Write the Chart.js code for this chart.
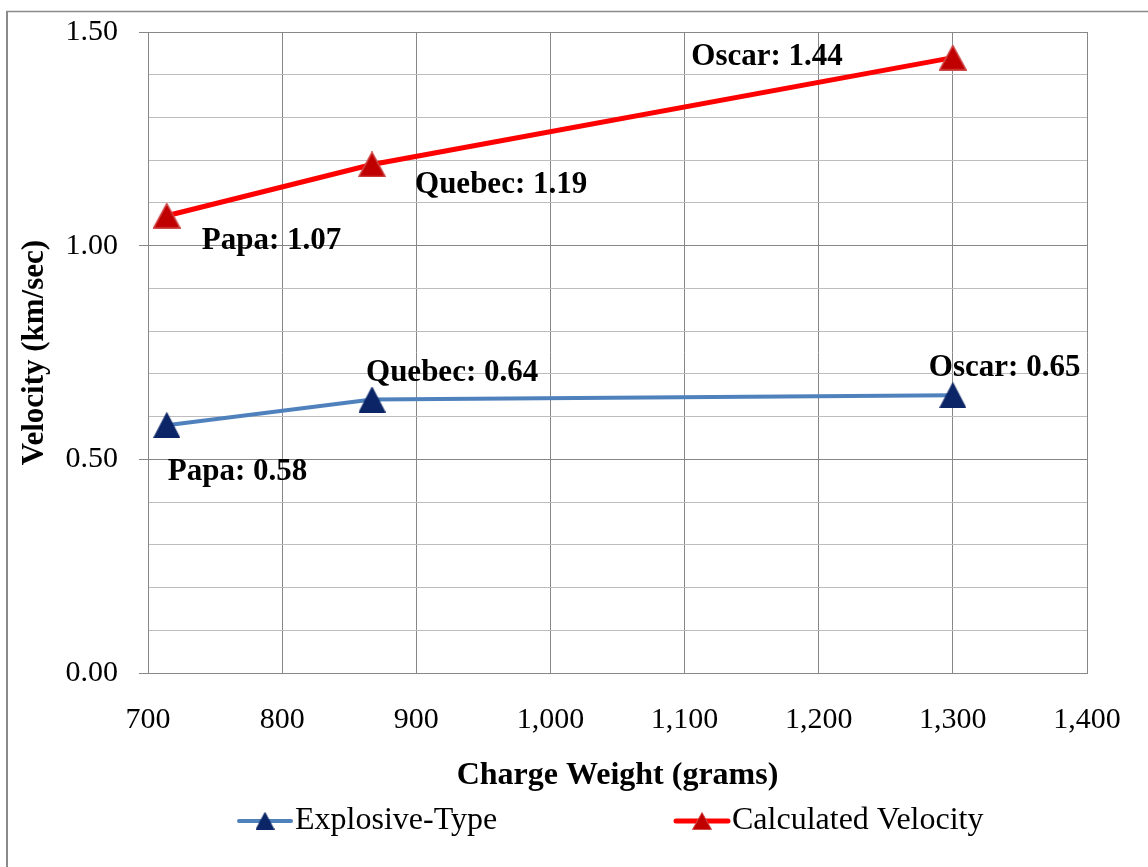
<!DOCTYPE html>
<html><head><meta charset="utf-8">
<script src="https://cdn.jsdelivr.net/npm/chart.js@4.4.0/dist/chart.umd.min.js"></script>
<style>html,body{margin:0;padding:0;background:#fff}#wrap{width:1148px;height:867px}</style>
</head><body><div id="wrap"><canvas id="c" width="1148" height="867"></canvas></div>
<script>
// ---- data ----
const pointNames = ['Papa', 'Quebec', 'Oscar'];
const chargeWeights = [714, 867, 1300];
const explosiveType = [0.58, 0.64, 0.65];
const calculatedVelocity = [1.07, 1.19, 1.44];
const seriesNames = ['Explosive-Type', 'Calculated Velocity'];
const xTitle = 'Charge Weight (grams)';
const yTitle = 'Velocity (km/sec)';

// ---- styling ----
const FONT = "'Liberation Serif','Times New Roman',serif";
const MAJOR = '#878787', MINOR = '#bdbdbd';
const BLUE_LINE = '#4f81bd', BLUE_MARK = '#0b2566', BLUE_EDGE = '#0b2566';
const RED_LINE = '#ff0000', RED_MARK = '#c00000', RED_EDGE = '#d04a4a';

function tri(w, h, fill, stroke, lw) {
  const c = document.createElement('canvas'); c.width = w; c.height = h;
  const g = c.getContext('2d');
  g.beginPath(); g.moveTo(w / 2, lw / 2); g.lineTo(w - lw / 2, h - lw / 2); g.lineTo(lw / 2, h - lw / 2); g.closePath();
  g.fillStyle = fill; g.fill(); g.strokeStyle = stroke; g.lineWidth = lw; g.stroke();
  return c;
}
const blueTri = tri(27, 26, BLUE_MARK, BLUE_EDGE, 1);
const redTri = tri(28, 26, RED_MARK, RED_EDGE, 1.5);
const blueTriSmall = tri(19, 18, BLUE_MARK, BLUE_EDGE, 1);
const redTriSmall = tri(20, 18, RED_MARK, RED_EDGE, 1);

const isMajor = v => Math.abs(v * 2 - Math.round(v * 2)) < 1e-6;

// label offsets relative to each point (layout only)
const labelPlacement = [
  [{dx: 1, dy: 47, align: 'left'}, {dx: -6, dy: -27, align: 'left'}, {dx: -24, dy: -27, align: 'left'}],
  [{dx: 35, dy: 25, align: 'left'}, {dx: 43, dy: 21, align: 'left'}, {dx: -110, dy: -1, align: 'right'}]
];

const framePlugin = {
  id: 'frame',
  beforeDraw(chart) {
    const ctx = chart.ctx;
    ctx.save();
    ctx.fillStyle = '#fff'; ctx.fillRect(0, 0, chart.width, chart.height);
    ctx.strokeStyle = '#8a8a8a';
    ctx.lineWidth = 2;
    ctx.beginPath(); ctx.moveTo(7, 11); ctx.lineTo(7, chart.height); ctx.stroke();
    ctx.lineWidth = 1.5;
    ctx.beginPath(); ctx.moveTo(6, 11.5); ctx.lineTo(chart.width, 11.5); ctx.stroke();
    ctx.restore();
  }
};

const labelPlugin = {
  id: 'pointLabels',
  afterDatasetsDraw(chart) {
    const ctx = chart.ctx;
    ctx.save();
    ctx.font = 'bold 31px ' + FONT;
    ctx.fillStyle = '#000';
    ctx.textBaseline = 'middle';
    chart.data.datasets.forEach((ds, i) => {
      const meta = chart.getDatasetMeta(i);
      meta.data.forEach((pt, j) => {
        const p = labelPlacement[i][j];
        ctx.textAlign = p.align;
        ctx.fillText(pointNames[j] + ': ' + ds.data[j].y.toFixed(2), pt.x + p.dx, pt.y + p.dy);
      });
    });
    ctx.restore();
  }
};

const legendPlugin = {
  id: 'customLegend',
  afterDraw(chart) {
    const ctx = chart.ctx;
    const items = [
      {x: 237, line: BLUE_LINE, lw: 4, img: blueTriSmall, text: seriesNames[0]},
      {x: 674, line: RED_LINE, lw: 5, img: redTriSmall, text: seriesNames[1]}
    ];
    const y = 821;
    ctx.save();
    items.forEach(it => {
      ctx.strokeStyle = it.line; ctx.lineWidth = it.lw; ctx.lineCap = 'round';
      ctx.beginPath(); ctx.moveTo(it.x + 2, y); ctx.lineTo(it.x + 54, y); ctx.stroke();
      ctx.drawImage(it.img, it.x + 28 - it.img.width / 2, y - it.img.height / 2);
      ctx.font = '32px ' + FONT; ctx.fillStyle = '#000'; ctx.textBaseline = 'middle'; ctx.textAlign = 'left';
      ctx.fillText(it.text, it.x + 58, y);
    });
    ctx.restore();
  }
};

const toXY = (xs, ys) => xs.map((x, i) => ({x, y: ys[i]}));

new Chart(document.getElementById('c'), {
  type: 'line',
  data: {
    datasets: [
      {
        label: seriesNames[0], data: toXY(chargeWeights, explosiveType),
        borderColor: BLUE_LINE, borderWidth: 4, tension: 0,
        pointStyle: blueTri, pointRadius: 14, pointHoverRadius: 14,
        backgroundColor: BLUE_MARK
      },
      {
        label: seriesNames[1], data: toXY(chargeWeights, calculatedVelocity),
        borderColor: RED_LINE, borderWidth: 5, tension: 0,
        pointStyle: redTri, pointRadius: 14, pointHoverRadius: 14,
        backgroundColor: RED_MARK
      }
    ]
  },
  options: {
    responsive: false,
    animation: false,
    events: [],
    layout: {padding: {top: 32, right: 61, bottom: 0, left: 0}},
    plugins: {legend: {display: false}, tooltip: {enabled: false}},
    scales: {
      x: {
        type: 'linear', min: 700, max: 1400,
        ticks: {stepSize: 100, padding: 29, color: '#000', font: {family: FONT, size: 30},
          maxRotation: 0, autoSkip: false,
          callback: v => v.toLocaleString('en-US')},
        grid: {color: MAJOR, lineWidth: 1, drawTicks: false},
        border: {color: MAJOR, width: 1},
        title: {display: true, text: xTitle, color: '#000', font: {family: FONT, size: 32, weight: 'bold'},
          padding: {top: 0, bottom: 72}},
        afterFit: s => { s.height = 194; s.paddingLeft = 0; s.paddingRight = 0; }
      },
      y: {
        type: 'linear', min: 0, max: 1.5,
        ticks: {stepSize: 0.1, padding: 21, color: '#000', font: {family: FONT, size: 30}, autoSkip: false,
          callback: v => isMajor(v) ? v.toFixed(2) : ''},
        grid: {
          color: c => isMajor(c.tick.value) ? MAJOR : MINOR,
          tickColor: c => isMajor(c.tick.value) ? MAJOR : 'rgba(0,0,0,0)',
          tickLength: 9, lineWidth: 1
        },
        border: {color: MAJOR, width: 1},
        title: {display: true, text: yTitle, color: '#000', font: {family: FONT, size: 31, weight: 'bold'},
          padding: {top: 16, bottom: 0}},
        afterFit: s => { s.width = 148; s.paddingTop = 0; s.paddingBottom = 0; }
      }
    }
  },
  plugins: [framePlugin, labelPlugin, legendPlugin]
});
</script>
</body></html>
